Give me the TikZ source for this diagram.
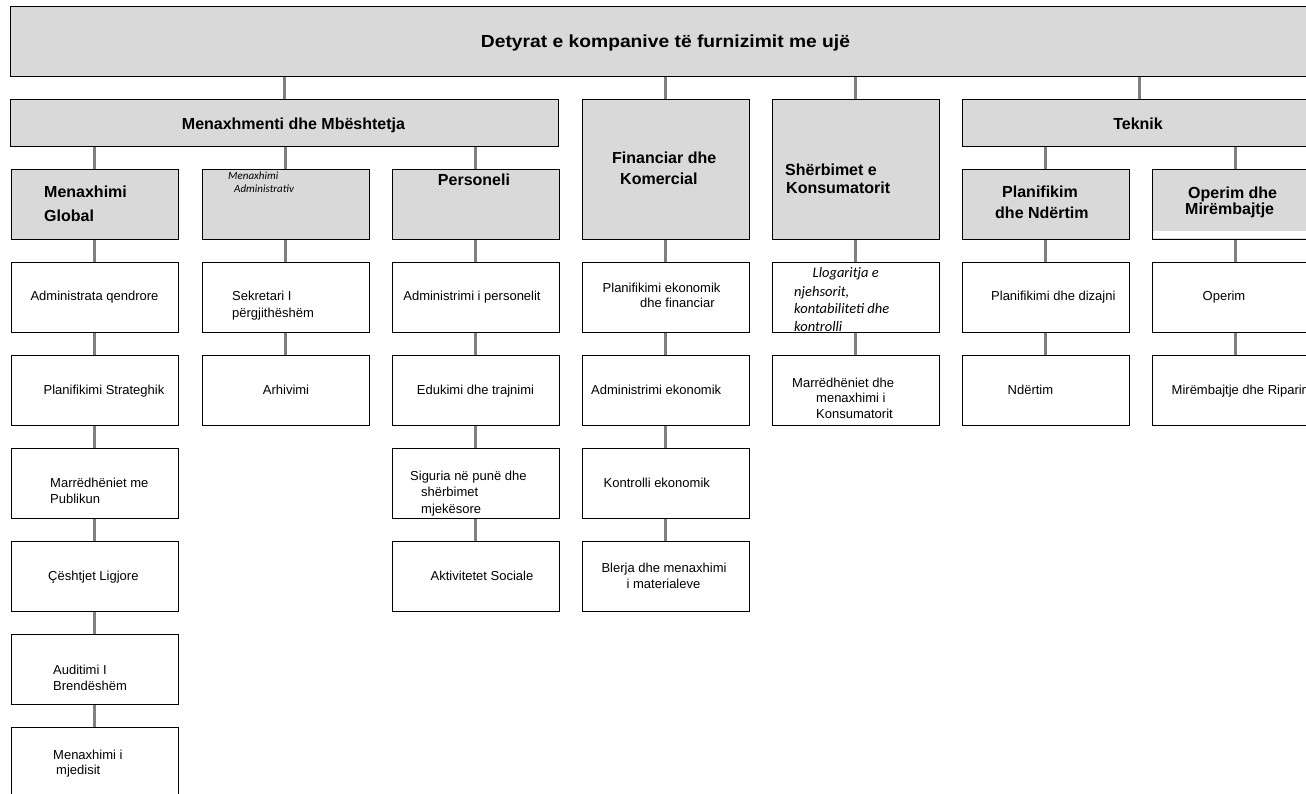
\documentclass[tikz,border=0pt]{standalone}
\usepackage{fontspec}
\usepackage{graphicx}
\setmainfont{Liberation Sans}
\newfontfamily\carl{Carlito}
\usetikzlibrary{backgrounds}
\definecolor{hgray}{HTML}{D9D9D9}
\definecolor{cgray}{HTML}{808080}
\begin{document}
\begin{tikzpicture}[x=1pt,y=-1pt,
  box/.style={draw=black, line width=0.9pt, inner sep=0pt, outer sep=0pt, anchor=north west, minimum height=70pt, minimum width=167pt, fill=white},
  hbox/.style={box, fill=hgray},
  conn/.style={draw=cgray, line width=3pt},
  rt/.style={inner sep=0pt, font=\fontsize{13}{15}\selectfont},
  bt/.style={inner sep=0pt, font=\fontsize{16}{18}\selectfont\bfseries},
  it/.style={inner sep=0pt, font=\fontsize{14.5}{17}\selectfont\carl\itshape},
  its/.style={inner sep=0pt, font=\fontsize{11}{13}\selectfont\carl\itshape}]
\useasboundingbox (0,0) rectangle (1306,794);
% header boxes
\node[hbox, minimum width=1320pt] (top) at (10,6) {};
\node[hbox, minimum width=548pt, minimum height=47pt] (mms) at (10,99) {};
\node[hbox, minimum height=140pt] (fin) at (582,99) {};
\node[hbox, minimum height=140pt] (shc) at (772,99) {};
\node[hbox, minimum width=354pt, minimum height=47pt] (tek) at (962,99) {};
\node[hbox] (mg) at (11,169) {};
\node[hbox] (ma) at (202,169) {};
\node[hbox] (pe) at (392,169) {};
\node[hbox] (pl) at (962,169) {};
\node[hbox] (op) at (1152,169) {};
\fill[white] (1153,231.5) rectangle (1320,238.5);
% column 1
\node[box] (a1) at (11,262) {};
\node[box] (a2) at (11,355) {};
\node[box] (a3) at (11,448) {};
\node[box] (a4) at (11,541) {};
\node[box] (a5) at (11,634) {};
\node[box] (a6) at (11,727) {};
% column 2
\node[box] (b1) at (202,262) {};
\node[box] (b2) at (202,355) {};
% column 3
\node[box] (c1) at (392,262) {};
\node[box] (c2) at (392,355) {};
\node[box] (c3) at (392,448) {};
\node[box] (c4) at (392,541) {};
% column 4
\node[box] (d1) at (582,262) {};
\node[box] (d2) at (582,355) {};
\node[box] (d3) at (582,448) {};
\node[box] (d4) at (582,541) {};
% column 5
\node[box] (e1) at (772,262) {};
\node[box] (e2) at (772,355) {};
% column 6
\node[box] (f1) at (962,262) {};
\node[box] (f2) at (962,355) {};
% column 7
\node[box] (g1) at (1152,262) {};
\node[box] (g2) at (1152,355) {};
% connectors
\begin{scope}[on background layer]
\draw[conn] (mms.north) -- (mms.north |- top.south);
\draw[conn] (fin.north) -- (fin.north |- top.south);
\draw[conn] (shc.north) -- (shc.north |- top.south);
\draw[conn] (tek.north) -- (tek.north |- top.south);
\draw[conn] (mg.north) -- (mg.north |- mms.south);
\draw[conn] (ma.north) -- (ma.north |- mms.south);
\draw[conn] (pe.north) -- (pe.north |- mms.south);
\draw[conn] (pl.north) -- (pl.north |- tek.south);
\draw[conn] (op.north) -- (op.north |- tek.south);
\draw[conn] (mg.south) -- (a1.north);
\draw[conn] (a1.south) -- (a2.north);
\draw[conn] (a2.south) -- (a3.north);
\draw[conn] (a3.south) -- (a4.north);
\draw[conn] (a4.south) -- (a5.north);
\draw[conn] (a5.south) -- (a6.north);
\draw[conn] (ma.south) -- (b1.north);
\draw[conn] (b1.south) -- (b2.north);
\draw[conn] (pe.south) -- (c1.north);
\draw[conn] (c1.south) -- (c2.north);
\draw[conn] (c2.south) -- (c3.north);
\draw[conn] (c3.south) -- (c4.north);
\draw[conn] (fin.south) -- (d1.north);
\draw[conn] (d1.south) -- (d2.north);
\draw[conn] (d2.south) -- (d3.north);
\draw[conn] (d3.south) -- (d4.north);
\draw[conn] (shc.south) -- (e1.north);
\draw[conn] (e1.south) -- (e2.north);
\draw[conn] (pl.south) -- (f1.north);
\draw[conn] (f1.south) -- (f2.north);
\draw[conn] (op.south) -- (g1.north);
\draw[conn] (g1.south) -- (g2.north);
\end{scope}
% header texts
\node[inner sep=0pt, anchor=base, font=\fontsize{17.5}{20}\selectfont\bfseries] (ttl) at (665.5,47.3) {\scalebox{1.1}[1]{Detyrat e kompanive të furnizimit me ujë}};
\node[bt, anchor=base] (tmms) at (293.5,130) {Menaxhmenti dhe Mbështetja};
\node[bt, anchor=base] (ttek) at (1138,130) {Teknik};
\node[bt, anchor=base west] (tmg1) at (44,198) {Menaxhimi};
\node[bt, anchor=base west] (tmg2) at (44,222) {Global};
\node[its, anchor=base west] (tma1) at (228,180) {Menaxhimi};
\node[its, anchor=base west] (tma2) at (234,193) {Administrativ};
\node[bt, anchor=base] (tpe) at (474,186) {Personeli};
\node[bt, anchor=base west] (tfin1) at (612,164) {Financiar dhe};
\node[bt, anchor=base west] (tfin2) at (620,185) {Komercial};
\node[bt, anchor=base west] (tsh1) at (785,176) {Shërbimet e};
\node[bt, anchor=base west] (tsh2) at (786,194) {Konsumatorit};
\node[bt, anchor=base west] (tpl1) at (1002,198) {Planifikim};
\node[bt, anchor=base west] (tpl2) at (995,219) {dhe Ndërtim};
\node[bt, anchor=base west] (top1) at (1188,199) {Operim dhe};
\node[bt, anchor=base west] (top2) at (1185,215) {Mirëmbajtje};
% column 1 texts
\node[rt, anchor=base] (ta1) at (94.5,301) {Administrata qendrore};
\node[rt, anchor=base] (ta2) at (104,394) {Planifikimi Strateghik};
\node[rt, anchor=base west] (ta3a) at (50,487) {Marrëdhëniet me};
\node[rt, anchor=base west] (ta3b) at (50,503) {Publikun};
\node[rt, anchor=base west] (ta4) at (48,580) {Çështjet Ligjore};
\node[rt, anchor=base west] (ta5a) at (53,674) {Auditimi I};
\node[rt, anchor=base west] (ta5b) at (53,690) {Brendëshëm};
\node[rt, anchor=base west] (ta6a) at (53,759) {Menaxhimi i};
\node[rt, anchor=base west] (ta6b) at (56,774) {mjedisit};
% column 2 texts
\node[rt, anchor=base west] (tb1a) at (232,301) {Sekretari I};
\node[rt, anchor=base west] (tb1b) at (232,317) {përgjithëshëm};
\node[rt, anchor=base] (tb2) at (286,394) {Arhivimi};
% column 3 texts
\node[rt, anchor=base] (tc1) at (472,301) {Administrimi i personelit};
\node[rt, anchor=base] (tc2) at (475.5,394) {Edukimi dhe trajnimi};
\node[rt, anchor=base west] (tc3a) at (410,480) {Siguria në punë dhe};
\node[rt, anchor=base west] (tc3b) at (421,496) {shërbimet};
\node[rt, anchor=base west] (tc3c) at (421,513) {mjekësore};
\node[rt, anchor=base] (tc4) at (482,580) {Aktivitetet Sociale};
% column 4 texts
\node[rt, anchor=base west] (td1a) at (602.5,292) {Planifikimi ekonomik};
\node[rt, anchor=base west] (td1b) at (640,308) {dhe financiar};
\node[rt, anchor=base west] (td2) at (591,394) {Administrimi ekonomik};
\node[rt, anchor=base west] (td3) at (603.5,487) {Kontrolli ekonomik};
\node[rt, anchor=base] (td4a) at (664,572) {Blerja dhe menaxhimi};
\node[rt, anchor=base] (td4b) at (663.5,588) {i materialeve};
% column 5 texts
\node[it, anchor=base west] (te1a) at (812.5,278) {Llogaritja e};
\node[it, anchor=base west] (te1b) at (794,296) {njehsorit,};
\node[it, anchor=base west] (te1c) at (794,313) {kontabiliteti dhe};
\node[it, anchor=base west] (te1d) at (794,331) {kontrolli};
\node[rt, anchor=base west] (te2a) at (792,387) {Marrëdhëniet dhe};
\node[rt, anchor=base west] (te2b) at (816,402) {menaxhimi i};
\node[rt, anchor=base west] (te2c) at (816,418) {Konsumatorit};
% column 6 texts
\node[rt, anchor=base west] (tf1) at (991,301) {Planifikimi dhe dizajni};
\node[rt, anchor=base west] (tf2) at (1007.5,394) {Ndërtim};
% column 7 texts
\node[rt, anchor=base] (tg1) at (1224,301) {Operim};
\node[rt, anchor=base west] (tg2) at (1171.5,394) {Mirëmbajtje dhe Riparim};
\end{tikzpicture}
\end{document}
